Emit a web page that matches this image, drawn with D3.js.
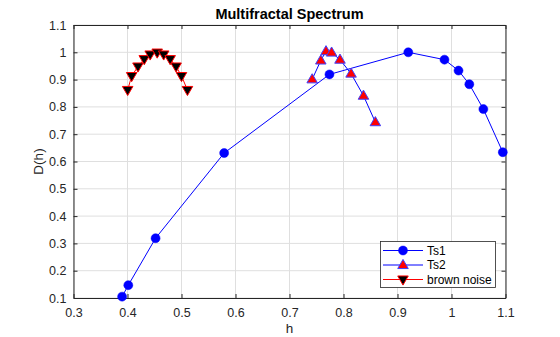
<!DOCTYPE html>
<html>
<head>
<meta charset="utf-8">
<script src="https://cdn.jsdelivr.net/npm/d3@7"></script>
<style>
  html, body { margin: 0; padding: 0; background: #fff; }
  svg { display: block; font-family: "Liberation Sans", Arial, Helvetica, sans-serif; }
</style>
</head>
<body>
<svg id="chart" width="560" height="337"></svg>
<script>
// Multifractal spectrum D(h) for two series and a brown-noise reference
const ts1H = [0.390, 0.4015, 0.452, 0.579, 0.774, 0.920, 0.987, 1.013, 1.033, 1.059, 1.095];
const ts1D = [0.105, 0.147, 0.319, 0.631, 0.919, 1.000, 0.973, 0.933, 0.883, 0.792, 0.634];

const ts2H = [0.742, 0.758, 0.7676, 0.778, 0.7935, 0.814, 0.837, 0.859];
const ts2D = [0.901, 0.970, 1.004, 0.999, 0.973, 0.922, 0.841, 0.744];

const brownH = [0.4003, 0.4077, 0.4194, 0.431, 0.442, 0.455, 0.467, 0.479, 0.490, 0.500, 0.511];
const brownD = [0.862, 0.913, 0.948, 0.975, 0.992, 0.999, 0.992, 0.975, 0.948, 0.913, 0.862];

const xTicks = [0.3, 0.4, 0.5, 0.6, 0.7, 0.8, 0.9, 1, 1.1];
const yTicks = [0.1, 0.2, 0.3, 0.4, 0.5, 0.6, 0.7, 0.8, 0.9, 1, 1.1];

const seriesNames = ["Ts1", "Ts2", "brown noise"];

(function () {
  const svg = d3.select("#chart");
  const mLeft = 73.5, mRight = 505.5, mTop = 25, mBottom = 298;

  const x = d3.scaleLinear().domain([0.3, 1.1]).range([mLeft, mRight]);
  const y = d3.scaleLinear().domain([0.1, 1.1]).range([mBottom, mTop]);

  const axisColor = "#262626";

  // grid
  const grid = svg.append("g").attr("stroke", "#dfdfdf").attr("stroke-width", 1);
  xTicks.forEach(t => grid.append("line")
    .attr("x1", x(t)).attr("x2", x(t)).attr("y1", mTop).attr("y2", mBottom));
  yTicks.forEach(t => grid.append("line")
    .attr("x1", mLeft).attr("x2", mRight).attr("y1", y(t)).attr("y2", y(t)));

  // axes with inward ticks on all four sides
  const fmt = d => d3.format("~g")(d);
  const ax = (gen, tr) => {
    const g = svg.append("g").attr("transform", tr).call(gen);
    g.select(".domain").attr("stroke", axisColor);
    g.selectAll(".tick line").attr("stroke", axisColor);
    g.selectAll(".tick text").attr("fill", axisColor).attr("font-size", 12.5)
      .attr("font-family", "Liberation Sans, Arial, sans-serif");
    return g;
  };
  ax(d3.axisBottom(x).tickValues(xTicks).tickFormat(fmt).tickSizeInner(-4).tickSizeOuter(0).tickPadding(10),
     `translate(0,${mBottom})`);
  ax(d3.axisTop(x).tickValues(xTicks).tickFormat("").tickSizeInner(-4).tickSizeOuter(0),
     `translate(0,${mTop})`);
  ax(d3.axisLeft(y).tickValues(yTicks).tickFormat(fmt).tickSizeInner(-4).tickSizeOuter(0).tickPadding(7),
     `translate(${mLeft},0)`);
  ax(d3.axisRight(y).tickValues(yTicks).tickFormat("").tickSizeInner(-4).tickSizeOuter(0),
     `translate(${mRight},0)`);

  // title and axis labels
  svg.append("text").attr("x", (mLeft + mRight) / 2).attr("y", 19)
    .attr("text-anchor", "middle").attr("font-weight", "bold").attr("font-size", 14.5)
    .attr("fill", "#000").text("Multifractal Spectrum");
  svg.append("text").attr("x", (mLeft + mRight) / 2).attr("y", 333)
    .attr("text-anchor", "middle").attr("font-size", 13.5).attr("fill", axisColor).text("h");
  svg.append("text").attr("transform", `translate(42.5,${(mTop + mBottom) / 2}) rotate(-90)`)
    .attr("text-anchor", "middle").attr("font-size", 13.5).attr("fill", axisColor).text("D(h)");

  const line = d3.line().x(d => x(d[0])).y(d => y(d[1]));
  const zipPts = (hs, ds) => hs.map((h, i) => [h, ds[i]]);

  const tri = d3.symbol().type(d3.symbolTriangle).size(48);

  function circleMarker(g, cx, cy) {
    g.append("circle").attr("cx", cx).attr("cy", cy).attr("r", 4.5)
      .attr("fill", "#0000ff").attr("stroke", "#0000ff").attr("stroke-width", 0.5);
  }
  function upMarker(g, cx, cy) {
    g.append("path").attr("d", tri()).attr("transform", `translate(${cx},${cy + 0.5})`)
      .attr("fill", "#ff0000").attr("stroke", "#4040ff").attr("stroke-width", 1);
  }
  function downMarker(g, cx, cy) {
    g.append("path").attr("d", tri()).attr("transform", `translate(${cx},${cy - 0.5}) rotate(180)`)
      .attr("fill", "#000").attr("stroke", "#ff0000").attr("stroke-width", 1);
  }

  const series = [
    { name: seriesNames[0], pts: zipPts(ts1H, ts1D), col: "#0000ff", mk: circleMarker },
    { name: seriesNames[1], pts: zipPts(ts2H, ts2D), col: "#0000ff", mk: upMarker },
    { name: seriesNames[2], pts: zipPts(brownH, brownD), col: "#ff0000", mk: downMarker }
  ];

  const plot = svg.append("g");
  series.forEach(s => {
    plot.append("path").datum(s.pts).attr("d", line)
      .attr("fill", "none").attr("stroke", s.col).attr("stroke-width", 1);
    s.pts.forEach(d => s.mk(plot, x(d[0]), y(d[1])));
  });

  // legend
  const lg = svg.append("g");
  lg.append("rect").attr("x", 380.5).attr("y", 241.5).attr("width", 115).attr("height", 46)
    .attr("fill", "#fff").attr("stroke", axisColor).attr("stroke-width", 0.8);
  series.forEach((s, i) => {
    const ly = 250.5 + i * 14.5;
    lg.append("line").attr("x1", 383).attr("x2", 423).attr("y1", ly).attr("y2", ly)
      .attr("stroke", s.col).attr("stroke-width", 1);
    s.mk(lg, 403, ly);
    lg.append("text").attr("x", 427).attr("y", ly + 4.3).attr("font-size", 12)
      .attr("fill", "#000").text(s.name);
  });
})();
</script>
</body>
</html>
